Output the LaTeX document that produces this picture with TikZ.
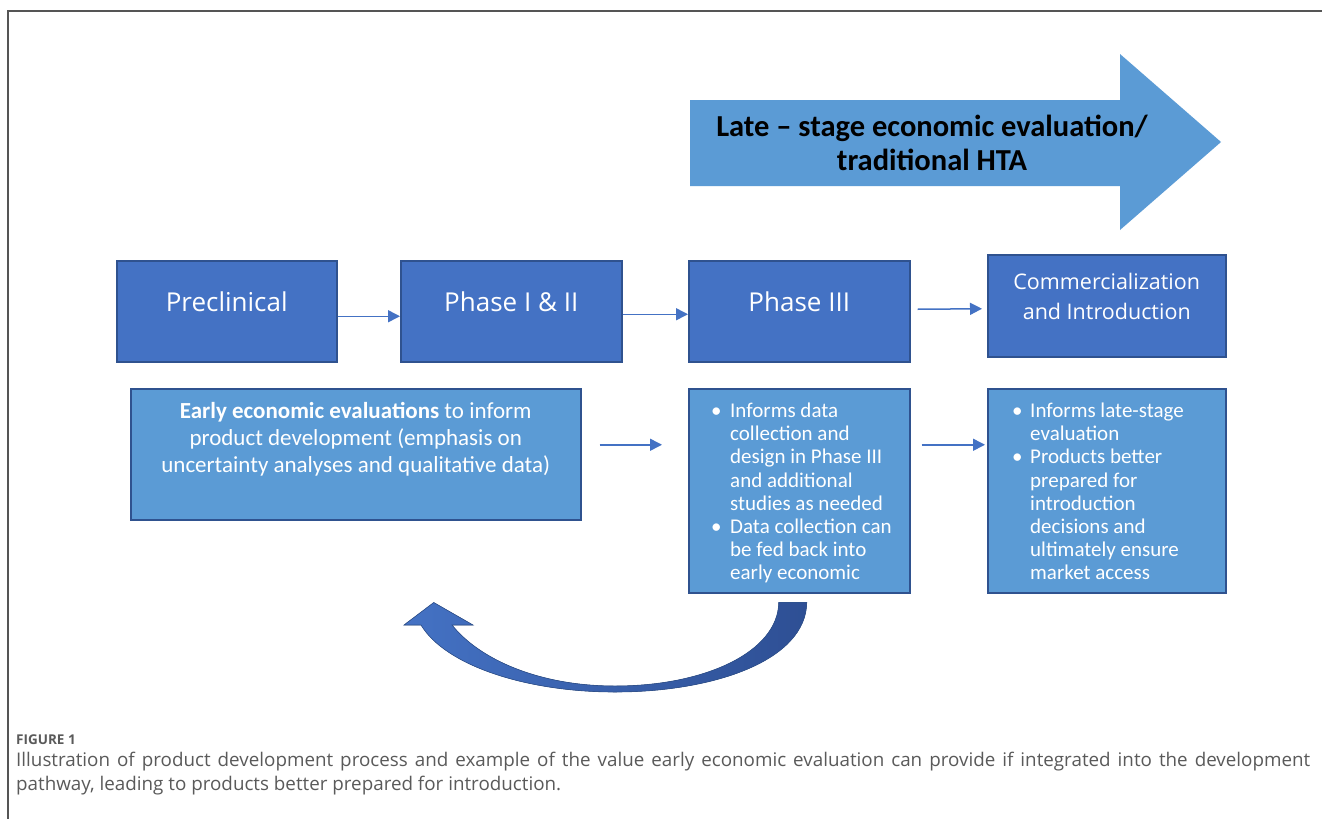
\documentclass[tikz,border=0pt]{standalone}
\usepackage{fontspec}
\setmainfont{Carlito}
\newfontfamily\headfont{Open Sans}
\newfontfamily\capfont{Open Sans}
\usetikzlibrary{arrows.meta,calc}

\definecolor{boxdark}{HTML}{4472C4}
\definecolor{boxedge}{HTML}{2F528F}
\definecolor{boxlight}{HTML}{5B9BD5}
\definecolor{arrowfill}{HTML}{5B9BD5}
\definecolor{connblue}{HTML}{4472C4}
\definecolor{loopleft}{HTML}{4472C4}
\definecolor{loopright}{HTML}{2E4F94}
\definecolor{framegray}{HTML}{555555}
\definecolor{capgray}{HTML}{5A5A5A}

% bullet line and its continuation
\newcommand{\bitem}[2][19pt]{\makebox[#1][l]{\textbullet}#2}
\newcommand{\bcont}[2][19pt]{\hspace*{#1}#2}

\begin{document}
\begin{tikzpicture}[x=1pt,y=-1pt,
  topbox/.style={draw=boxedge, fill=boxdark, line width=1.5pt, inner sep=0pt, anchor=north west},
  lowbox/.style={draw=boxedge, fill=boxlight, line width=1.5pt, inner sep=0pt, anchor=north west},
  toptext/.style={text=white, font=\headfont\fontsize{26}{30}\selectfont, align=center, inner sep=0pt},
  lowtext/.style={text=white, font=\fontsize{21}{23.1}\selectfont, align=left, inner sep=0pt, anchor=north west},
  conn/.style={draw=connblue, line width=1.5pt, -{Triangle[length=12pt,width=12pt]}},
]
\useasboundingbox (0,0) rectangle (1322,819);
\fill[white] (0,0) rectangle (1322,819);

% figure frame
\draw[framegray, line width=1.5pt] (1322,11) -- (8,11) -- (8,819);

% late-stage block arrow
\fill[arrowfill] (690,100) -- (1120,100) -- (1120,54) -- (1221,142)
  -- (1120,230) -- (1120,186) -- (690,186) -- cycle;
\node[font=\fontsize{30.5}{34}\selectfont\bfseries, align=center, inner sep=0pt] (late) at (932,143)
  {Late – stage economic evaluation/\\traditional HTA};

% development stages
\node[topbox, minimum width=220, minimum height=101] (pre) at (116,260) {};
\node[topbox, minimum width=221, minimum height=101] (ph12) at (400,260) {};
\node[topbox, minimum width=221, minimum height=101] (ph3) at (688,260) {};
\node[topbox, minimum width=238, minimum height=102] (comm) at (987,254) {};

\node[toptext] (preT) at ($(pre.center)+(0,-10)$) {Preclinical};
\node[toptext] (ph12T) at ($(ph12.center)+(0,-10)$) {Phase I \& II};
\node[toptext] (ph3T) at ($(ph3.center)+(0,-10)$) {Phase III};
\node[toptext, font=\headfont\fontsize{21.5}{30}\selectfont] (commT) at ($(comm.center)+(0,-9)$)
  {Commercialization\\and Introduction};

% evaluation boxes
\node[lowbox, minimum width=450, minimum height=131] (early) at (130,388) {};
\node[lowbox, minimum width=221, minimum height=204] (b3) at (688,388) {};
\node[lowbox, minimum width=238, minimum height=204] (b4) at (987,388) {};

\node[text=white, font=\fontsize{23}{27}\selectfont, align=center, inner sep=0pt] (earlyT)
  at ($(early.center)+(0,-15)$)
  {\textbf{Early economic evaluations} to inform\\product development (emphasis on\\uncertainty analyses and qualitative data)};

\node[lowtext] (b3T) at (711,403)
  {\bitem{Informs data}\\\bcont{collection and}\\\bcont{design in Phase III}\\\bcont{and additional}\\
   \bcont{studies as needed}\\\bitem{Data collection can}\\\bcont{be fed back into}\\\bcont{early economic}};

\node[lowtext] (b4T) at (1012,403)
  {\bitem[18pt]{Informs late-stage}\\\bcont[18pt]{evaluation}\\\bitem[18pt]{Products better}\\\bcont[18pt]{prepared for}\\
   \bcont[18pt]{introduction}\\\bcont[18pt]{decisions and}\\\bcont[18pt]{ultimately ensure}\\\bcont[18pt]{market access}};

% connectors
\draw[conn] ($(pre.east)+(0,5)$) -- ($(ph12.west)+(0,5)$);
\draw[conn] ($(ph12.east)+(0,3)$) -- ($(ph3.west)+(0,3)$);
\draw[conn] ($(ph3.east)+(7,-2)$) -- ($(comm.west)+(-5,3)$);
\draw[conn] ($(early.east)+(18,-9.5)$) -- ($(b3.west)+(-26,-46)$);
\draw[conn] ($(b3.east)+(11,-46)$) -- ($(b4.west)+(-2,-46)$);

% feedback loop from Phase III evaluation back to early evaluation
\coordinate (loopOut) at ($(b3.south)+(7.5,9)$);
\coordinate (loopIn) at ($(b3.south)+(-20.5,9)$);
\coordinate (loopTip) at ($(early.south)+(78,82)$);
\fill[left color=loopleft, right color=loopright, draw=boxedge, line width=0.6pt]
  (loopOut) .. controls (806,660) and (715,692) .. (615,692)
  .. controls (525,692) and (445,665) .. (421,625)
  -- (404,625) -- (loopTip) -- (473,625) -- (452,625)
  .. controls (480,660) and (540,686) .. (615,686)
  .. controls (705,686) and (778,652) .. (loopIn) -- cycle;

% caption
\node[anchor=west, text=capgray, font=\capfont\bfseries\fontsize{13.5}{15}\selectfont, inner sep=0pt] (figlabel)
  at (16,740) {FIGURE 1};
\node[anchor=north west, text=capgray, font=\capfont\fontsize{18.8}{24}\selectfont, text width=1294pt,
  align=justify, inner sep=0pt] (caption) at (16,752)
  {Illustration of product development process and example of the value early economic evaluation can provide if integrated into the development\linebreak
   pathway, leading to products better prepared for introduction.};
\end{tikzpicture}
\end{document}
